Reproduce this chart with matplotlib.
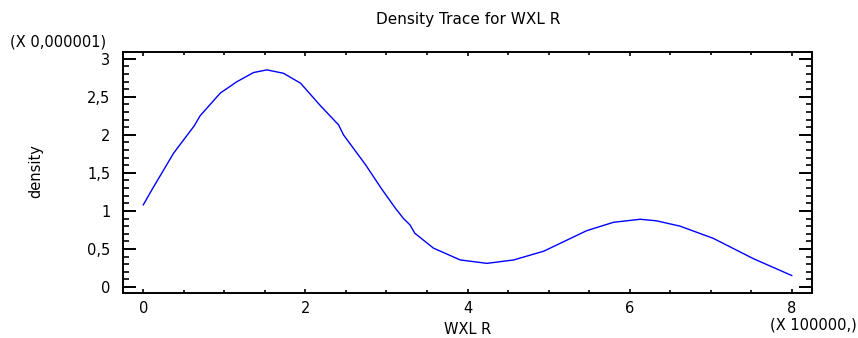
import matplotlib
matplotlib.use("Agg")
import matplotlib.pyplot as plt
from matplotlib.ticker import FuncFormatter, MultipleLocator

plt.rcParams["font.family"] = ["DejaVu Sans"]

# density trace, x in units of 100000, y in units of 0.000001
wxl_r = [0.0, 0.107, 0.374, 0.629, 0.70, 0.95, 1.155, 1.36, 1.525, 1.73, 1.94,
         2.18, 2.41, 2.47, 2.74, 2.94, 3.11, 3.21, 3.29, 3.35, 3.58, 3.91, 4.24,
         4.57, 4.94, 5.47, 5.80, 6.13, 6.33, 6.62, 7.03, 7.53, 8.0]
density = [1.08, 1.28, 1.76, 2.12, 2.25, 2.55, 2.70, 2.82, 2.855, 2.81, 2.68,
           2.39, 2.13, 2.0, 1.61, 1.29, 1.035, 0.90, 0.816, 0.706, 0.51, 0.355,
           0.31, 0.355, 0.47, 0.74, 0.85, 0.89, 0.87, 0.80, 0.64, 0.37, 0.15]

title = "Density Trace for WXL R"
x_label = "WXL R"
y_label = "density"
y_scale_note = "(X 0,000001)"
x_scale_note = "(X 100000,)"

fig = plt.figure(figsize=(8.58, 3.38), dpi=100)
ax = fig.add_axes([0.1434, 0.1331, 0.8030, 0.7130])

ax.plot(wxl_r, density, color="#0000ff", linewidth=1.0)

ax.set_xlim(-0.25, 8.25)
ax.set_ylim(-0.08, 3.09)

ax.xaxis.set_major_locator(MultipleLocator(2))
ax.xaxis.set_minor_locator(MultipleLocator(0.5))
ax.yaxis.set_major_locator(MultipleLocator(0.5))
ax.yaxis.set_minor_locator(MultipleLocator(0.1))
ax.yaxis.set_major_formatter(FuncFormatter(lambda v, _: f"{v:g}".replace(".", ",")))

for s in ax.spines.values():
    s.set_linewidth(1.4)

ax.tick_params(axis="y", which="major", direction="in", length=9.4, width=1.4,
               left=True, right=True, labelsize=10.5, pad=9)
ax.tick_params(axis="y", which="minor", direction="in", length=4.3, width=1.2,
               left=True, right=True)
ax.tick_params(axis="x", which="major", direction="in", length=3, width=1.2,
               top=True, bottom=True, labelsize=10.5, pad=6)
ax.tick_params(axis="x", which="minor", direction="in", length=2, width=1.2,
               top=True, bottom=True)

ax.set_xlabel(x_label, fontsize=10.5, va="baseline")
ax.xaxis.set_label_coords(0.5, -0.172)
ax.set_ylabel(y_label, fontsize=10.5, va="center")
ax.yaxis.set_label_coords(-0.126, 0.504)

fig.text(0.5455, 0.942, title, ha="center", va="center", fontsize=11)
fig.text(0.012, 0.875, y_scale_note, ha="left", va="center", fontsize=10.5)
fig.text(0.999, 0.038, x_scale_note, ha="right", va="center", fontsize=10.5)

fig.savefig("out.png", dpi=100)
